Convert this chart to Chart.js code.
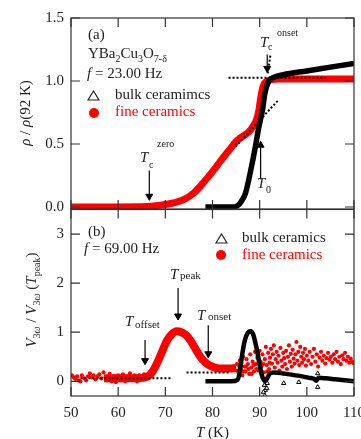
<!DOCTYPE html>
<html>
<head>
<meta charset="utf-8">
<script src="https://cdn.jsdelivr.net/npm/chart.js@4.4.0/dist/chart.umd.min.js"></script>
<style>
  html, body { margin: 0; padding: 0; background: #fff; }
  #wrap { position: relative; width: 361px; height: 439px; overflow: hidden; font-family: 'Liberation Serif', serif; color: #222; }
  canvas { position: absolute; left: 0; top: 0; }
  .t { position: absolute; font-size: 15px; line-height: 15px; white-space: nowrap; }
  .s { position: absolute; font-size: 10px; line-height: 10px; white-space: nowrap; }
  .s11 { position: absolute; font-size: 11px; line-height: 11px; white-space: nowrap; }
  .red { color: #f00; }
  .sb { font-size: 10px; position: relative; top: 4px; }
  .rot { position: absolute; transform: translate(-50%, -50%) rotate(-90deg); font-size: 15px; line-height: 15px; white-space: nowrap; }
  .dot { position: absolute; width: 10px; height: 10px; border-radius: 50%; background: #f00; }
</style>
</head>
<body>
<div id="wrap">
  <canvas id="chartA" width="361" height="439"></canvas>
  <canvas id="chartB" width="361" height="439"></canvas>

  <!-- panel (a) texts -->
  <div class="t" style="left:88px;top:27px">(a)</div>
  <div class="t" style="left:88px;top:46px">YBa<span class="sb">2</span>Cu<span class="sb">3</span>O<span class="sb">7-δ</span></div>
  <div class="t" style="left:87px;top:66px"><i>f</i> = 23.00 Hz</div>
  <svg style="position:absolute;left:87px;top:90px" width="13" height="11"><polygon points="6.5,1 12,10 1,10" fill="none" stroke="#222" stroke-width="1.2"/></svg>
  <div class="t" style="left:115px;top:87px">bulk ceramimcs</div>
  <div class="dot" style="left:89px;top:108px"></div>
  <div class="t red" style="left:115px;top:104px">fine ceramics</div>

  <div class="t" style="left:260px;top:35px"><i>T</i></div>
  <div class="s" style="left:268px;top:42px">c</div>
  <div class="s" style="left:277px;top:28px">onset</div>

  <div class="t" style="left:140px;top:150px"><i>T</i></div>
  <div class="s" style="left:149px;top:160px">c</div>
  <div class="s" style="left:157px;top:139px">zero</div>

  <div class="t" style="left:257px;top:176px"><i>T</i></div>
  <div class="s" style="left:266px;top:185px">0</div>

  <div class="rot" style="left:25px;top:113px"><i>ρ</i> / <i>ρ</i>(92 K)</div>

  <!-- panel (b) texts -->
  <div class="t" style="left:88px;top:224px">(b)</div>
  <div class="t" style="left:84px;top:241px"><i>f</i> = 69.00 Hz</div>
  <svg style="position:absolute;left:215px;top:233px" width="13" height="11"><polygon points="6.5,1 12,10 1,10" fill="none" stroke="#222" stroke-width="1.2"/></svg>
  <div class="t" style="left:242px;top:230px">bulk ceramics</div>
  <div class="dot" style="left:216px;top:250px"></div>
  <div class="t red" style="left:242px;top:247px">fine ceramics</div>

  <div class="t" style="left:125px;top:314px"><i>T</i></div>
  <div class="s11" style="left:135px;top:319px">offset</div>
  <div class="t" style="left:170px;top:267px"><i>T</i></div>
  <div class="s11" style="left:180px;top:270px">peak</div>
  <div class="t" style="left:197px;top:308px"><i>T</i></div>
  <div class="s11" style="left:208px;top:311px">onset</div>

  <div class="rot" style="left:32px;top:300px"><i>V</i><span class="sb">3<i>ω</i></span> / <i>V</i><span class="sb">3<i>ω</i></span> (<i>T</i><span class="sb">peak</span>)</div>
  <div class="t" style="left:196px;top:425px"><i>T</i> (K)</div>
</div>

<script>
// ---- axes ----
const tempTicks = [50, 60, 70, 80, 90, 100, 110];
const rhoTicks = [0, 0.5, 1.0, 1.5];
const v3Ticks = [0, 1, 2, 3];

// ---- panel (a): normalised resistivity ----
const tempFineA = [50, 55, 60, 64, 66, 68, 70, 72, 74, 76, 78, 80, 82, 83.5, 84.8, 85.8, 86.8, 87.8, 88.6, 89.3, 89.8, 90.2, 90.6, 91.0, 91.6, 92.5, 94, 97, 100, 105, 110];
const rhoFineA = [0, 0, 0, 0.001, 0.004, 0.01, 0.02, 0.035, 0.06, 0.11, 0.19, 0.28, 0.38, 0.45, 0.51, 0.545, 0.57, 0.6, 0.64, 0.69, 0.76, 0.86, 0.94, 0.98, 1.0, 1.01, 1.015, 1.015, 1.015, 1.015, 1.015];
const tempBulkA = [78.5, 80, 82, 84, 85.3, 86.2, 87, 88.1, 89.1, 89.8, 90.6, 91.1, 91.7, 92.3, 93, 95, 100, 105, 110];
const rhoBulkA = [0, 0, 0, 0, 0.01, 0.05, 0.11, 0.29, 0.48, 0.63, 0.77, 0.9, 0.98, 1.015, 1.03, 1.05, 1.08, 1.11, 1.14];

// guide lines (a)
const plateauT = [83.4, 104], plateauV = [1.025, 1.025];
const shoulderT = [84.9, 94.0], shoulderV = [0.48, 0.85];
const steepT = [91.7, 92.3], steepV = [1.06, 1.21];
// arrows (a): [tail, head]
const tcOnsetT = [91.6, 91.6], tcOnsetV = [1.21, 1.1];
const tcZeroT = [66.6, 66.6], tcZeroV = [0.29, 0.085];
const t0T = [90.2, 90.2], t0V = [0.22, 0.49];

// ---- panel (b): third harmonic voltage ----
const tempFineB = [57, 60, 63, 65, 66.3, 67.3, 68.3, 69.3, 70.3, 71.3, 72.4, 73.4, 74.4, 75.4, 76.4, 77.4, 78.4, 79.4, 80.5, 82, 83.5, 85];
const v3FineB = [0.06, 0.06, 0.06, 0.07, 0.1, 0.2, 0.38, 0.6, 0.82, 0.95, 1.02, 1.0, 0.94, 0.82, 0.66, 0.5, 0.39, 0.32, 0.28, 0.26, 0.26, 0.27];
const fineScatterB = [
  [50.2, 0.12], [50.6, 0.08], [50.9, 0.05], [51.3, 0.1], [51.6, 0.02], [52.0, 0.0], [52.3, 0.12], [52.8, 0.06], [53.2, 0.02], [53.6, 0.1],
  [54.0, 0.16], [54.4, 0.08], [54.8, 0.12], [55.2, 0.04], [55.6, 0.1], [56.0, 0.14], [56.4, 0.06], [56.9, 0.18], [57.3, 0.08], [57.7, 0.02],
  [58.2, 0.15], [58.6, 0.0], [59.0, 0.1], [59.5, -0.02], [60.0, 0.12], [60.5, 0.02], [61, 0.14], [61.5, 0.0], [62, 0.1], [62.5, 0.16],
  [63, 0.03], [63.5, 0.12], [64, 0.0], [64.5, 0.12], [65, 0.04], [65.5, 0.14], [66, 0.06],
  [85.2, 0.35], [85.5, 0.18], [85.8, 0.42], [86.0, 0.25], [86.3, 0.12], [86.5, 0.5], [86.8, 0.3], [87.0, 0.2], [87.2, 0.45], [87.5, 0.35],
  [87.8, 0.15], [88.0, 0.55], [88.2, 0.28], [88.5, 0.4], [88.8, 0.2], [85.3, 0.22], [85.7, 0.3], [86.1, 0.38], [86.6, 0.2], [87.1, 0.3],
  [87.6, 0.25], [88.3, 0.15], [88.7, 0.33], [89.3, 0.25], [89.8, 0.4], [90.3, 0.2], [90.8, 0.35], [91.6, 0.2], [92.1, 0.38],
  [89.0, 0.6], [89.2, 0.35], [89.5, 0.48], [89.7, 0.22], [90.0, 0.62], [90.2, 0.4], [90.4, 0.3], [90.6, 0.55], [90.9, 0.18], [91.1, 0.45],
  [91.3, 0.7], [91.5, 0.33], [91.8, 0.58], [92.0, 0.25], [92.2, 0.48], [92.4, 0.66], [92.6, 0.36], [92.8, 0.55], [93.0, 0.73], [93.2, 0.28],
  [93.4, 0.45], [93.6, 0.6], [93.8, 0.38], [94.0, 0.52], [94.2, 0.22], [94.4, 0.68], [94.6, 0.42], [94.8, 0.3], [95.0, 0.58], [95.2, 0.47],
  [95.4, 0.35], [95.6, 0.62], [95.8, 0.25], [96.0, 0.5], [96.2, 0.73], [96.4, 0.4], [96.6, 0.56], [96.8, 0.3], [97.0, 0.64], [97.2, 0.46],
  [97.4, 0.36], [97.6, 0.55], [97.8, 0.8], [98.0, 0.42], [98.2, 0.6], [98.4, 0.33], [98.6, 0.7], [98.8, 0.5], [99.0, 0.38], [99.2, 0.58],
  [99.4, 0.45], [99.6, 0.66], [99.8, 0.32], [100, 0.52], [100.3, 0.42], [100.6, 0.6], [100.9, 0.35], [101.2, 0.5], [101.5, 0.66], [101.8, 0.4],
  [102.1, 0.55], [102.4, 0.3], [102.7, 0.48], [103.0, 0.6], [103.3, 0.42], [103.6, 0.52], [103.9, 0.36], [104.2, 0.47], [104.5, 0.58], [104.8, 0.44],
  [105.1, 0.5], [105.4, 0.38], [105.7, 0.55], [106.0, 0.45], [106.3, 0.6], [106.6, 0.4], [106.9, 0.5], [107.2, 0.35], [107.5, 0.53], [107.8, 0.45],
  [108.1, 0.58], [108.4, 0.42], [108.7, 0.5], [109.0, 0.38], [109.3, 0.46], [109.6, 0.4], [109.9, 0.37]
];
const tempBulkB = [78.5, 80, 82, 84, 85.3, 85.8, 86.3, 86.9, 87.5, 88.1, 88.6, 89.1, 89.6, 90.1, 90.6, 91.2, 91.8, 92.3, 93, 95, 97, 99, 100.5, 101.5, 102, 102.5, 104, 106, 108, 110];
const v3BulkB = [0.0, 0.0, 0.0, 0.0, 0.03, 0.2, 0.55, 0.85, 0.99, 1.02, 0.96, 0.78, 0.55, 0.28, 0.08, 0.0, 0.1, 0.17, 0.18, 0.16, 0.13, 0.1, 0.07, 0.05, 0.01, 0.07, 0.06, 0.04, 0.02, 0.0];
const bulkOutliersB = [[91.0, -0.08], [91.2, -0.18], [91.1, -0.29], [91.6, -0.04], [91.5, -0.14], [90.8, -0.22], [95.1, -0.04], [98.3, -0.02], [102.3, 0.16], [102.3, -0.12]];

// guide lines (b)
const baseOffsetT = [52, 71.5], baseOffsetV = [0.06, 0.06];
const baseOnsetT = [74.5, 83.8], baseOnsetV = [0.18, 0.18];
// arrows (b)
const tOffsetT = [65.7, 65.7], tOffsetV = [0.84, 0.42];
const tPeakT = [72.7, 72.7], tPeakV = [1.9, 1.33];
const tOnsetT = [79.1, 79.1], tOnsetV = [1.14, 0.56];

const pts = (xs, ys) => xs.map((x, i) => ({ x, y: ys[i] }));
const pairs = arr => arr.map(p => ({ x: p[0], y: p[1] }));

Chart.defaults.font.family = "'Liberation Serif', serif";
Chart.defaults.font.size = 15;
Chart.defaults.color = '#222';

// frame with inward ticks on all four sides
const frameTicks = {
  id: 'frameTicks',
  afterDraw(chart, args, opts) {
    const { ctx, chartArea: a, scales } = chart;
    ctx.save();
    ctx.strokeStyle = '#333';
    ctx.lineWidth = 1.2;
    ctx.strokeRect(a.left, a.top, a.right - a.left, a.bottom - a.top);
    ctx.beginPath();
    opts.xTicks.forEach(v => {
      const x = scales.x.getPixelForValue(v);
      ctx.moveTo(x, a.top); ctx.lineTo(x, a.top + 9);
      ctx.moveTo(x, a.bottom); ctx.lineTo(x, a.bottom - 9);
    });
    opts.yTicks.forEach(v => {
      const y = scales.y.getPixelForValue(v);
      ctx.moveTo(a.left, y); ctx.lineTo(a.left + 9, y);
      ctx.moveTo(a.right, y); ctx.lineTo(a.right - 9, y);
    });
    ctx.stroke();
    ctx.restore();
  }
};

function guide(xs, ys) {
  return { data: pts(xs, ys), showLine: true, borderColor: '#000', borderWidth: 2, borderDash: [2, 2], pointRadius: 0 };
}
function arrow(xs, ys, up) {
  return {
    data: pts(xs, ys), showLine: true, borderColor: '#000', borderWidth: 1.2,
    pointRadius: [0, 4], pointStyle: 'triangle', rotation: up ? 0 : 180,
    pointBackgroundColor: '#000', pointBorderColor: '#000', pointBorderWidth: 1
  };
}

function scales(yMin, yMax, yTicks, yFmt, xLabels) {
  return {
    x: {
      type: 'linear', min: 50, max: 110, display: xLabels,
      grid: { display: false, drawTicks: false }, border: { display: false },
      ticks: { padding: 8 },
      afterBuildTicks: s => { s.ticks = tempTicks.map(v => ({ value: v })); },
      afterFit: s => { s.height = xLabels ? 43 : 0; s.paddingLeft = 0; s.paddingRight = 0; }
    },
    y: {
      type: 'linear', min: yMin, max: yMax,
      grid: { display: false, drawTicks: false }, border: { display: false },
      ticks: { padding: 7, callback: yFmt },
      afterBuildTicks: s => { s.ticks = yTicks.map(v => ({ value: v })); },
      afterFit: s => { s.width = 71; s.paddingTop = 0; s.paddingBottom = 0; }
    }
  };
}

new Chart(document.getElementById('chartA'), {
  type: 'scatter',
  data: {
    datasets: [
      guide(plateauT, plateauV),
      guide(shoulderT, shoulderV),
      guide(steepT, steepV),
      arrow(tcOnsetT, tcOnsetV, false),
      arrow(tcZeroT, tcZeroV, false),
      arrow(t0T, t0V, true),
      { label: 'bulk ceramimcs', data: pts(tempBulkA, rhoBulkA), showLine: true, borderColor: '#000', borderWidth: 5.5, pointRadius: 0, cubicInterpolationMode: 'monotone' },
      { label: 'fine ceramics', data: pts(tempFineA, rhoFineA), showLine: true, borderColor: '#f00', borderWidth: 7, pointRadius: 0, cubicInterpolationMode: 'monotone' }
    ]
  },
  options: {
    responsive: false, animation: false,
    layout: { padding: { left: 0, top: 18, right: 7, bottom: 230 } },
    plugins: { legend: { display: false }, tooltip: { enabled: false }, frameTicks: { xTicks: tempTicks, yTicks: rhoTicks } },
    scales: scales(-0.016, 1.5, rhoTicks, v => v.toFixed(1), false)
  },
  plugins: [frameTicks]
});

new Chart(document.getElementById('chartB'), {
  type: 'scatter',
  data: {
    datasets: [
      guide(baseOffsetT, baseOffsetV),
      guide(baseOnsetT, baseOnsetV),
      arrow(tOffsetT, tOffsetV, false),
      arrow(tPeakT, tPeakV, false),
      arrow(tOnsetT, tOnsetV, false),
      { label: 'bulk outliers', data: pairs(bulkOutliersB), pointStyle: 'triangle', pointRadius: 2.5, pointBorderWidth: 1, pointBorderColor: '#000', pointBackgroundColor: '#fff' },
      { label: 'bulk ceramics', data: pts(tempBulkB, v3BulkB), showLine: true, borderColor: '#000', borderWidth: 4.5, pointRadius: 0, cubicInterpolationMode: 'monotone' },
      { label: 'fine scatter', data: pairs(fineScatterB), pointStyle: 'circle', pointRadius: 2.1, pointBorderWidth: 0, pointBackgroundColor: '#f00' },
      { label: 'fine ceramics', data: pts(tempFineB, v3FineB), showLine: true, borderColor: '#f00', borderWidth: 8, pointRadius: 0, cubicInterpolationMode: 'monotone' }
    ]
  },
  options: {
    responsive: false, animation: false,
    layout: { padding: { left: 0, top: 209.5, right: 7, bottom: 0 } },
    plugins: { legend: { display: false }, tooltip: { enabled: false }, frameTicks: { xTicks: tempTicks, yTicks: v3Ticks } },
    scales: scales(-0.3, 3.5, v3Ticks, v => String(v), true)
  },
  plugins: [frameTicks]
});
</script>
</body>
</html>
